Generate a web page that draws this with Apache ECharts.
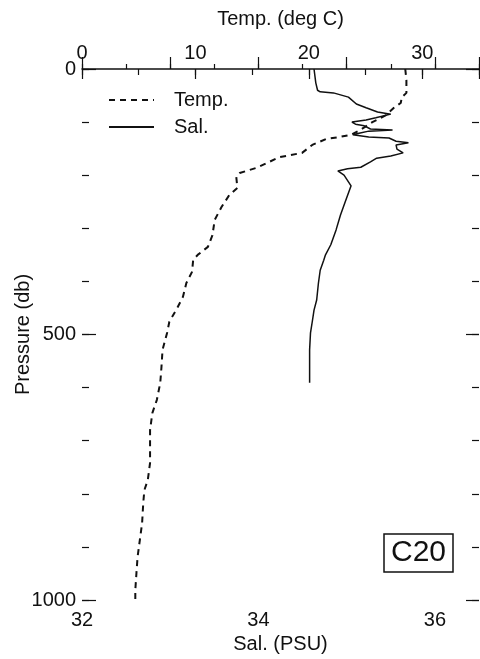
<!DOCTYPE html>
<html>
<head>
<meta charset="utf-8">
<title>C20 temperature and salinity profile</title>
<script src="https://cdn.jsdelivr.net/npm/echarts@6/dist/echarts.min.js"></script>
<style>
  html, body { margin: 0; padding: 0; background: #fff; }
  #chart { width: 480px; height: 659px; }
</style>
</head>
<body>
<div id="chart"></div>
<script>
// station C20 profile
const tempPressure = [0, 21, 45, 53, 64, 73, 87, 100, 115, 124, 128, 132, 143, 158, 166, 177, 186, 196, 203, 224,
  237, 260, 284, 313, 335, 350, 360, 382, 403, 429, 450, 476, 497, 529, 563, 591, 623, 648, 680, 712,
  742, 774, 793, 817, 855, 887, 919, 949, 981, 1000];
const tempValues = [28.5, 28.6, 28.6, 28.2, 28.1, 27.5, 26.8, 25.6, 24.5, 23.7, 22.7, 21.5, 20.3, 19.4, 17.4, 16.3, 15.4, 13.9, 13.6, 13.7,
  13.0, 12.3, 11.7, 11.5, 11.1, 10.2, 9.8, 9.7, 9.2, 8.9, 8.4, 7.7, 7.5, 7.1, 7.0, 6.9, 6.6, 6.2, 6.0, 6.0,
  6.0, 5.8, 5.5, 5.4, 5.3, 5.1, 4.9, 4.8, 4.7, 4.7];

const salPressure = [0, 26, 40, 43, 45, 53, 66, 73, 81, 85, 92, 96, 100, 104, 107, 113, 115, 117, 121, 124,
  128, 130, 136, 139, 143, 151, 158, 164, 168, 175, 185, 188, 192, 200, 220, 247, 275, 303, 331, 350,
  360, 379, 403, 435, 454, 476, 497, 529, 591];
const salValues = [34.63, 34.65, 34.67, 34.70, 34.85, 35.02, 35.11, 35.22, 35.35, 35.50, 35.33, 35.22, 35.06, 35.10, 35.20, 35.27, 35.52, 35.25, 35.14, 35.07,
  35.25, 35.48, 35.56, 35.70, 35.56, 35.57, 35.64, 35.50, 35.34, 35.27, 35.16, 35.01, 34.90, 34.97, 35.05, 34.99, 34.93, 34.88, 34.82, 34.76,
  34.74, 34.70, 34.68, 34.66, 34.63, 34.61, 34.59, 34.58, 34.58];

const tempLabels = [0, 10, 20, 30];
const salLabels = [32, 34, 36];
const pressureLabels = [0, 500, 1000];

const font = 'Liberation Sans, Arial, sans-serif';
const ink = '#111';

const chart = echarts.init(document.getElementById('chart'));

const labelStyle = { fontFamily: font, fontSize: 20, color: ink };
const tickStyle = { color: ink, width: 1.2 };
const noLine = { show: false };
const noLabel = { show: false };
const noSplit = { show: false };

const option = {
  animation: false,
  title: {
    text: 'C20',
    left: 384,
    top: 534,
    padding: [4, 7],
    borderWidth: 1.5,
    borderColor: ink,
    textStyle: { fontFamily: font, fontSize: 30, fontWeight: 'normal', color: ink, lineHeight: 30 }
  },
  legend: {
    orient: 'vertical',
    left: 108,
    top: 90,
    padding: 0,
    itemWidth: 45,
    itemHeight: 14,
    itemGap: 7,
    selectedMode: false,
    // line series legends put a dot on the line; hide it
    itemStyle: { opacity: 0 },
    textStyle: { fontFamily: font, fontSize: 20, color: ink, lineHeight: 20, padding: [0, 0, 0, 15] },
    data: ['Temp.', 'Sal.']
  },
  grid: { left: 82, top: 69, width: 397, height: 531, outerBoundsMode: 'none' },
  xAxis: [
    { // temperature, short ticks every 5
      type: 'value', position: 'top', min: 0, max: 35, interval: 5,
      axisLine: { show: true, lineStyle: { color: ink, width: 1.5 } },
      axisTick: { show: true, inside: true, length: 6, lineStyle: tickStyle },
      axisLabel: noLabel, splitLine: noSplit
    },
    { // temperature, long ticks and labels every 10
      type: 'value', position: 'top', min: 0, max: 35, interval: 10,
      name: 'Temp. (deg C)', nameLocation: 'middle', nameGap: 40, nameTextStyle: labelStyle,
      axisLine: noLine,
      axisTick: { show: true, inside: true, length: 10, lineStyle: tickStyle },
      axisLabel: Object.assign({ margin: 6, formatter: v => tempLabels.includes(v) ? String(v) : '' }, labelStyle),
      splitLine: noSplit
    },
    { // salinity, short ticks every 0.5
      type: 'value', position: 'bottom', min: 32, max: 36.5, interval: 0.5,
      axisLine: noLine,
      axisTick: { show: true, inside: true, length: 5, lineStyle: tickStyle },
      axisLabel: noLabel, splitLine: noSplit
    },
    { // salinity, long ticks every 1, labels every 2
      type: 'value', position: 'bottom', min: 32, max: 36.5, interval: 1,
      name: 'Sal. (PSU)', nameLocation: 'middle', nameGap: 34, nameTextStyle: labelStyle,
      axisLine: noLine,
      axisTick: { show: true, inside: true, length: 12, lineStyle: tickStyle },
      axisLabel: Object.assign({ margin: 10, formatter: v => salLabels.includes(v) ? String(v) : '' }, labelStyle),
      splitLine: noSplit
    }
  ],
  yAxis: [
    { // pressure, left side
      type: 'value', position: 'left', inverse: true, min: 0, max: 1000, interval: 100,
      name: 'Pressure (db)', nameLocation: 'middle', nameGap: 49, nameRotate: 90,
      nameMoveOverlap: false, nameTextStyle: labelStyle,
      axisLine: noLine,
      axisTick: { show: true, inside: true, length: 7, lineStyle: tickStyle },
      axisLabel: Object.assign({ margin: 6, formatter: v => pressureLabels.includes(v) ? String(v) : '' }, labelStyle),
      splitLine: noSplit
    },
    { // left, long ticks every 500
      type: 'value', position: 'left', inverse: true, min: 0, max: 1000, interval: 500,
      axisLine: noLine,
      axisTick: { show: true, inside: true, length: 14, lineStyle: tickStyle },
      axisLabel: noLabel, splitLine: noSplit
    },
    { // right side ticks
      type: 'value', position: 'right', inverse: true, min: 0, max: 1000, interval: 100,
      axisLine: noLine,
      axisTick: { show: true, inside: true, length: 7, lineStyle: tickStyle },
      axisLabel: noLabel, splitLine: noSplit
    },
    {
      type: 'value', position: 'right', inverse: true, min: 0, max: 1000, interval: 500,
      axisLine: noLine,
      axisTick: { show: true, inside: true, length: 13, lineStyle: tickStyle },
      axisLabel: noLabel, splitLine: noSplit
    }
  ],
  series: [
    {
      name: 'Temp.',
      type: 'line',
      xAxisIndex: 0,
      yAxisIndex: 0,
      symbol: 'none',
      lineStyle: { color: ink, width: 2, type: [6, 5] },
      itemStyle: { color: ink },
      data: tempValues.map((t, i) => [t, tempPressure[i]])
    },
    {
      name: 'Sal.',
      type: 'line',
      xAxisIndex: 2,
      yAxisIndex: 0,
      symbol: 'none',
      lineStyle: { color: ink, width: 1.5 },
      itemStyle: { color: ink },
      data: salValues.map((s, i) => [s, salPressure[i]])
    }
  ]
};

chart.setOption(option);
</script>
</body>
</html>
